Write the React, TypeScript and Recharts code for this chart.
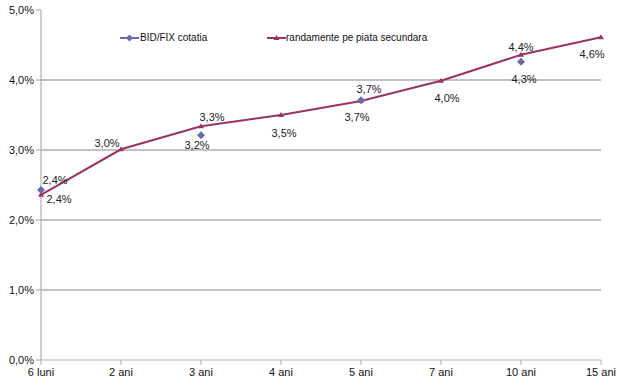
import React from 'react';
import { LineChart, Line, XAxis, YAxis, ReferenceLine } from 'recharts';

const maturities = ['6 luni', '2 ani', '3 ani', '4 ani', '5 ani', '7 ani', '10 ani', '15 ani'];
const bidFix: (number | null)[] = [2.43, null, 3.21, null, 3.71, null, 4.26, null];
const secondary: number[] = [2.36, 3.01, 3.34, 3.5, 3.7, 3.99, 4.36, 4.61];
const yTicks = [0, 1, 2, 3, 4, 5];
const gridValues = [1, 2, 3, 4];

// label offsets (dx, dy) from each point, as placed in the original
const secLabelOffset = [[18, 4], [-14, -6], [11, -9], [3, 18], [-4, 16], [6, 17], [0, -8], [-9, 17]];
const bidLabelOffset = [[14, -10], [0, 0], [-4, 10], [0, 0], [8, -11], [0, 0], [3, 17], [0, 0]];

const RED = '#993366';
const BLUE = '#6A6AAA';
const FONT = '"Liberation Sans", Arial, sans-serif';

const chartData = maturities.map((m, i) => ({
    name: m,
    bid: bidFix[i],
    sec: secondary[i]
}));

const fmt = (v: number) => v.toFixed(1).replace('.', ',') + '%';

const makeLabel = (offsets: number[][]) => (props: any) => {
    const { x, y, value, index } = props;
    if (value == null || x == null || y == null) return null;
    const [dx, dy] = offsets[index] || [0, 0];
    return (
        <text x={x + dx} y={y + dy} textAnchor="middle" dominantBaseline="central"
            fontSize={11} fontFamily={FONT} fill="#222">
            {fmt(value)}
        </text>
    );
};

const Diamond = (props: any) => {
    const { cx, cy, value, index } = props;
    if (value == null || cy == null) return <g key={`d${index}`} />;
    return <path key={`d${index}`} d={`M${cx},${cy - 4}L${cx + 4},${cy}L${cx},${cy + 4}L${cx - 4},${cy}Z`} fill={BLUE} />;
};

const Tri = (props: any) => {
    const { cx, cy, index } = props;
    if (cy == null) return <g key={`t${index}`} />;
    return <path key={`t${index}`} d={`M${cx},${cy - 3}L${cx + 3},${cy + 2}L${cx - 3},${cy + 2}Z`} fill={RED} />;
};

// legend drawn as an overlay so it does not shrink the plot area
const ChartLegend = () => (
    <div style={{ position: 'absolute', left: 120, top: 32, display: 'flex', fontFamily: FONT, fontSize: 10, color: '#111' }}>
        <div style={{ display: 'flex', alignItems: 'center', width: 147 }}>
            <svg width={20} height={10}>
                <line x1={0} y1={5} x2={19} y2={5} stroke={BLUE} strokeWidth={2} />
                <path d="M9.5,1.5L13,5L9.5,8.5L6,5Z" fill={BLUE} />
            </svg>
            <span>BID/FIX cotatia</span>
        </div>
        <div style={{ display: 'flex', alignItems: 'center' }}>
            <svg width={19} height={10}>
                <line x1={0} y1={5} x2={19} y2={5} stroke={RED} strokeWidth={2} />
                <path d="M9.5,2L12.5,7L6.5,7Z" fill={RED} />
            </svg>
            <span>randamente pe piata secundara</span>
        </div>
    </div>
);

const App: React.FC = () => {
    return (
        <div style={{ position: 'absolute', left: 0, top: 0, width: 617, height: 385, background: '#fff' }}>
            <LineChart width={617} height={385} data={chartData} margin={{ top: 10, right: 16, left: 0, bottom: 0 }}>
                {gridValues.map(v => (
                    <ReferenceLine key={v} y={v} stroke="#868686" strokeWidth={1} />
                ))}
                <XAxis dataKey="name" height={25} tickSize={5} tickMargin={3} interval={0}
                    axisLine={{ stroke: '#b0b0b0' }} tickLine={{ stroke: '#b0b0b0' }}
                    tick={{ fill: '#111', fontSize: 11, fontFamily: FONT }} />
                <YAxis width={41} domain={[0, 5]} ticks={yTicks} tickFormatter={fmt} tickSize={5} tickMargin={2}
                    allowDataOverflow axisLine={{ stroke: '#a0a0a0' }} tickLine={{ stroke: '#a0a0a0' }}
                    tick={{ fill: '#111', fontSize: 11, fontFamily: FONT }} />
                <Line dataKey="sec" stroke={RED} strokeWidth={2} dot={Tri} activeDot={false}
                    label={makeLabel(secLabelOffset)} isAnimationActive={false} />
                <Line dataKey="bid" stroke={BLUE} strokeWidth={2} dot={Diamond} activeDot={false}
                    connectNulls={false} label={makeLabel(bidLabelOffset)} isAnimationActive={false} />
            </LineChart>
            <ChartLegend />
        </div>
    );
};

export default App;
